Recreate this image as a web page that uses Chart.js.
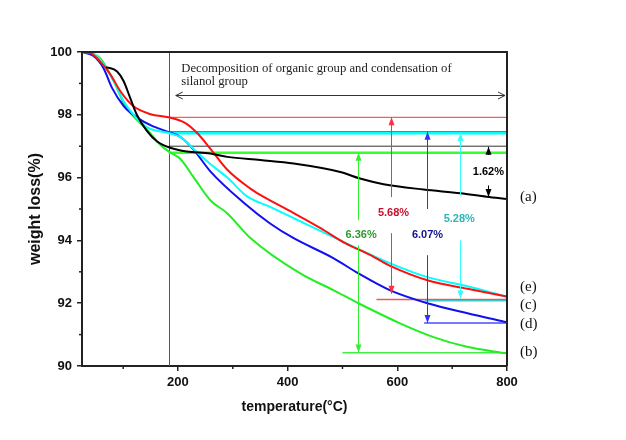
<!DOCTYPE html>
<html>
<head>
<meta charset="utf-8">
<script src="https://cdn.jsdelivr.net/npm/chart.js@4.4.1/dist/chart.umd.min.js"></script>
<style>html,body{margin:0;padding:0;background:#fff}</style>
</head>
<body>
<canvas id="tga" width="626" height="440"></canvas>
<script>
// TGA curves: temperature (°C) / weight (%)
const tempA = [69, 89, 101, 113, 125, 144, 162, 186, 216, 259, 290, 350, 411, 496, 532, 575, 648, 715, 763, 800];
const weightA = [99.52, 99.38, 99.07, 98.53, 98.0, 97.47, 97.15, 96.95, 96.83, 96.77, 96.66, 96.56, 96.45, 96.18, 95.97, 95.79, 95.62, 95.5, 95.39, 95.32];

const tempB = [25, 40, 58, 83, 101, 119, 144, 168, 186, 204, 229, 259, 290, 332, 423, 484, 530, 606, 666, 727, 800];
const weightB = [100, 99.96, 99.8, 99.07, 98.37, 97.95, 97.52, 97.04, 96.8, 96.6, 96.0, 95.28, 94.86, 94.08, 92.95, 92.41, 91.99, 91.35, 90.92, 90.61, 90.4];

const tempC = [25, 40, 58, 77, 95, 119, 150, 183, 212, 235, 260, 290, 332, 350, 411, 460, 505, 551, 587, 655, 728, 800];
const weightC = [100, 99.97, 99.7, 99.28, 98.75, 98.27, 98.02, 97.92, 97.75, 97.42, 96.9, 96.25, 95.65, 95.45, 94.87, 94.39, 93.91, 93.53, 93.19, 92.73, 92.46, 92.21];

const tempD = [25, 46, 64, 80, 101, 126, 155, 183, 204, 228, 259, 320, 368, 411, 484, 529, 587, 655, 728, 800];
const weightD = [100, 99.87, 99.49, 98.85, 98.28, 97.9, 97.63, 97.45, 97.3, 96.9, 96.2, 95.2, 94.54, 94.07, 93.43, 92.95, 92.41, 92.0, 91.68, 91.39];

const tempE = [25, 45, 58, 83, 101, 119, 144, 183, 204, 235, 260, 290, 326, 368, 423, 496, 514, 587, 655, 728, 800];
const weightE = [100, 99.96, 99.75, 99.07, 98.43, 98.0, 97.6, 97.42, 97.3, 96.8, 96.42, 96.0, 95.4, 95.07, 94.61, 94.0, 93.85, 93.27, 92.83, 92.54, 92.2];

// axis ticks
const xTicks = [200, 400, 600, 800];
const xMinor = [100, 300, 500, 700];
const yTicks = [90, 92, 94, 96, 98, 100];
const yMinor = [91, 93, 95, 97, 99];

// onset line and guide levels (red, blue, cyan, black, green)
const onsetT = 183;
const upperLevels = [97.92, 97.46, 97.42, 97.0, 96.79];
const lowerLevels = [92.12, 91.37, 92.08, 90.42];   // red, blue, cyan, green
const lowerStart = [562, 649, 650, 500];

// loss arrows (red, blue, cyan, green)
const arrowT = [589, 655, 715, 529];
const arrowTopTip = [97.92, 97.46, 97.42, 96.79];
const arrowUpperEnd = [95.38, 95.0, 95.44, 94.64];
const arrowLowerStart = [94.23, 93.53, 94.0, 93.85];
const arrowLowerTip = [92.3, 91.37, 92.15, 90.43];

// black curve arrows
const blackArrowT = 766;
const blackUp = [96.72, 96.98];
const blackDown = [95.75, 95.38];

// percent labels
const pctText = ['5.68%', '6.07%', '5.28%', '6.36%', '1.62%'];
const pctT = [593, 655, 713, 534, 766];
const pctW = [94.87, 94.16, 94.68, 94.16, 96.17];

// sample labels on the right
const sampleNames = ['(a)', '(e)', '(c)', '(d)', '(b)'];
const sampleW = [95.37, 92.51, 91.93, 91.33, 90.44];

// top annotation
const noteLines = ['Decomposition of organic group and condensation of', 'silanol group'];
const noteT = 206;
const noteW = [99.46, 99.04];
const spanW = 98.63;
const spanT = [196, 800];

const pts = (xs, ys) => xs.map((x, i) => ({x: x, y: ys[i]}));

const curve = (xs, ys, color) => ({
  data: pts(xs, ys), borderColor: color, borderWidth: 2, pointRadius: 0,
  showLine: true, cubicInterpolationMode: 'monotone', order: 0
});

const guide = (x0, x1, y, color, w) => ({
  data: [{x: x0, y: y}, {x: x1, y: y}], borderColor: color, borderWidth: w,
  pointRadius: 0, showLine: true, order: 1
});

const upperColors = ['#ff3030', '#2a2aff', '#00ffff', '#333333', '#33ff33'];
const upperWidths = [1, 1.5, 3, 1, 2.5];
const lowerColors = ['#e85a5a', '#4a4aff', '#40c8c8', '#44ee44'];

const datasets = [
  curve(tempA, weightA, '#000000'),
  curve(tempC, weightC, '#ff1010'),
  curve(tempE, weightE, '#00ffff'),
  curve(tempD, weightD, '#1010f0'),
  curve(tempB, weightB, '#22ee22')
];
// cyan drawn under blue, so push cyan guide first
[2, 0, 1, 3, 4].forEach(i => datasets.push(guide(onsetT, 800, upperLevels[i], upperColors[i], upperWidths[i])));
[2, 0, 1, 3].forEach(i => datasets.push(guide(lowerStart[i], 800, lowerLevels[i], lowerColors[i], 1.5)));

function arrow(ctx, x, y1, y2, color) {
  ctx.strokeStyle = color; ctx.fillStyle = color; ctx.lineWidth = 1;
  ctx.beginPath(); ctx.moveTo(x, y1); ctx.lineTo(x, y2); ctx.stroke();
  const d = y2 > y1 ? 1 : -1;
  ctx.beginPath();
  ctx.moveTo(x, y2);
  ctx.lineTo(x - 3, y2 - d * 8);
  ctx.lineTo(x + 3, y2 - d * 8);
  ctx.closePath(); ctx.fill();
}

const overlay = {
  id: 'overlay',
  beforeDatasetsDraw(chart) {
    const {ctx, scales: {x, y}} = chart;
    ctx.save();
    ctx.strokeStyle = '#555'; ctx.lineWidth = 1;
    const px = Math.round(x.getPixelForValue(onsetT)) + 0.5;
    ctx.beginPath(); ctx.moveTo(px, y.getPixelForValue(100)); ctx.lineTo(px, y.getPixelForValue(90)); ctx.stroke();
    ctx.restore();
  },
  afterDatasetsDraw(chart) {
    const {ctx, chartArea: a, scales: {x, y}} = chart;
    ctx.save();
    // frame top and right
    ctx.strokeStyle = '#222'; ctx.lineWidth = 2;
    ctx.beginPath(); ctx.moveTo(a.left, a.top); ctx.lineTo(a.right, a.top); ctx.lineTo(a.right, a.bottom); ctx.stroke();
    // minor ticks
    ctx.lineWidth = 1.5;
    xMinor.forEach(v => { const p = x.getPixelForValue(v); ctx.beginPath(); ctx.moveTo(p, a.bottom); ctx.lineTo(p, a.bottom + 3); ctx.stroke(); });
    yMinor.forEach(v => { const p = y.getPixelForValue(v); ctx.beginPath(); ctx.moveTo(a.left, p); ctx.lineTo(a.left - 3, p); ctx.stroke(); });

    // span arrow + note
    ctx.strokeStyle = '#333'; ctx.lineWidth = 1;
    const sy = Math.round(y.getPixelForValue(spanW)) + 0.5;
    const sx0 = x.getPixelForValue(spanT[0]), sx1 = x.getPixelForValue(spanT[1]) - 2;
    ctx.beginPath();
    ctx.moveTo(sx0, sy); ctx.lineTo(sx1, sy);
    ctx.moveTo(sx0 + 7, sy - 3.5); ctx.lineTo(sx0, sy); ctx.lineTo(sx0 + 7, sy + 3.5);
    ctx.moveTo(sx1 - 7, sy - 3.5); ctx.lineTo(sx1, sy); ctx.lineTo(sx1 - 7, sy + 3.5);
    ctx.stroke();
    ctx.fillStyle = '#222';
    ctx.font = '12.7px "Liberation Serif", "Times New Roman", serif';
    ctx.textAlign = 'left'; ctx.textBaseline = 'middle';
    noteLines.forEach((t, i) => ctx.fillText(t, x.getPixelForValue(noteT), y.getPixelForValue(noteW[i])));

    // loss arrows
    const arrowColors = ['#ff3040', '#3030ff', '#30ffff', '#30f030'];
    arrowT.forEach((t, i) => {
      const px = Math.round(x.getPixelForValue(t)) + 0.5;
      arrow(ctx, px, y.getPixelForValue(arrowUpperEnd[i]), y.getPixelForValue(arrowTopTip[i]), arrowColors[i]);
      arrow(ctx, px, y.getPixelForValue(arrowLowerStart[i]), y.getPixelForValue(arrowLowerTip[i]), arrowColors[i]);
    });
    const bx = Math.round(x.getPixelForValue(blackArrowT)) + 0.5;
    arrow(ctx, bx, y.getPixelForValue(blackUp[0]), y.getPixelForValue(blackUp[1]), '#000');
    arrow(ctx, bx, y.getPixelForValue(blackDown[0]), y.getPixelForValue(blackDown[1]), '#000');

    // percent labels
    const pctColors = ['#c8102e', '#101090', '#30b4b4', '#2e9a2e', '#000'];
    ctx.font = 'bold 11px "Liberation Sans", Arial, sans-serif';
    ctx.textAlign = 'center';
    pctText.forEach((t, i) => {
      ctx.fillStyle = pctColors[i];
      ctx.fillText(t, x.getPixelForValue(pctT[i]), y.getPixelForValue(pctW[i]));
    });

    // sample names
    ctx.fillStyle = '#111';
    ctx.font = '15px "Liberation Serif", "Times New Roman", serif';
    ctx.textAlign = 'left';
    sampleNames.forEach((t, i) => ctx.fillText(t, a.right + 13, y.getPixelForValue(sampleW[i])));
    ctx.restore();
  }
};

const tickFont = {family: '"Liberation Sans", Arial, sans-serif', weight: 'bold', size: 13};

new Chart(document.getElementById('tga'), {
  type: 'scatter',
  data: {datasets: datasets},
  options: {
    responsive: false,
    animation: false,
    layout: {padding: {left: 0, right: 119, top: 52, bottom: 0}},
    plugins: {legend: {display: false}, tooltip: {enabled: false}},
    scales: {
      x: {
        type: 'linear', min: 25, max: 800,
        afterBuildTicks: s => { s.ticks = xTicks.map(v => ({value: v})); },
        afterFit: s => { s.height = 74; },
        grid: {display: true, drawOnChartArea: false, drawTicks: true, tickLength: 5, color: '#222', lineWidth: 1.5},
        border: {display: true, color: '#222', width: 2},
        ticks: {font: tickFont, color: '#111', padding: 4, maxRotation: 0},
        title: {display: true, text: 'temperature(°C)', color: '#111',
          font: {family: '"Liberation Sans", Arial, sans-serif', weight: 'bold', size: 14},
          padding: {top: 0, bottom: 24}}
      },
      y: {
        type: 'linear', min: 90, max: 100,
        afterBuildTicks: s => { s.ticks = yTicks.map(v => ({value: v})); },
        afterFit: s => { s.width = 82; },
        grid: {display: true, drawOnChartArea: false, drawTicks: true, tickLength: 5, color: '#222', lineWidth: 1.5},
        border: {display: true, color: '#222', width: 2},
        ticks: {font: tickFont, color: '#111', padding: 5},
        title: {display: true, text: 'weight loss(%)', color: '#111',
          font: {family: '"Liberation Sans", Arial, sans-serif', weight: 'bold', size: 16},
          padding: {top: 26, bottom: 0}}
      }
    }
  },
  plugins: [overlay]
});
</script>
</body>
</html>
